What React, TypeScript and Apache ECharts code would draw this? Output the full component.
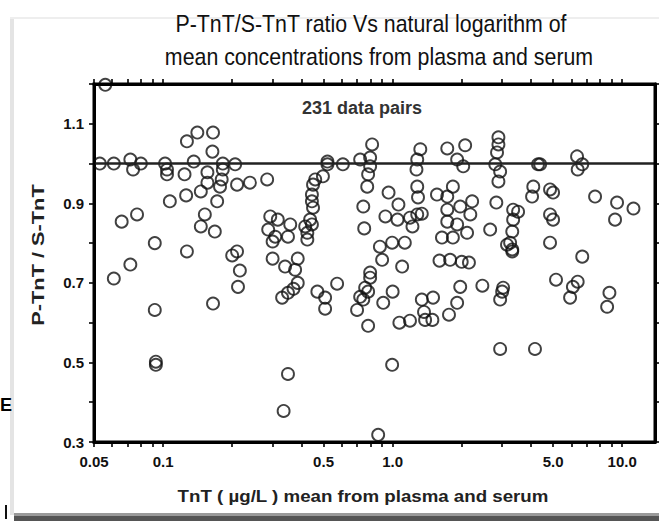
import React, { useEffect, useRef } from "react";
import * as echarts from "echarts";

const titleLines = [
  "P-TnT/S-TnT ratio Vs natural logarithm of",
  "mean concentrations from plasma and serum",
];
const xAxisTitle = "TnT ( µg/L ) mean from plasma and serum";
const yAxisTitle = "P-TnT / S-TnT";
const noteText = "231 data pairs";

const xTickValues = [0.05, 0.1, 0.5, 1, 5, 10];
const xTickLabels = ["0.05", "0.1", "0.5", "1.0", "5.0", "10.0"];
const xMinorTicks = [
  0.05, 0.06, 0.07, 0.08, 0.09, 0.1, 0.2, 0.3, 0.4, 0.5, 0.6, 0.7, 0.8, 0.9,
  1, 2, 3, 4, 5, 6, 7, 8, 9, 10,
];
const yTickValues = [0.3, 0.5, 0.7, 0.9, 1.1];
const yTickLabels = ["0.3", "0.5", "0.7", "0.9", "1.1"];
const xMin = 0.05;
const xMax = 13.9;
const yMin = 0.3;
const yMax = 1.2;
const refRatio = 1.0;

// TnT mean (µg/L)
const tntMean = [
  0.056, 0.053, 0.061, 0.072, 0.074, 0.08, 0.066, 0.077, 0.072, 0.061,
  0.092, 0.092, 0.093, 0.093, 0.102, 0.104, 0.104, 0.107, 0.124, 0.127,
  0.126, 0.127, 0.141, 0.165, 0.164, 0.136, 0.156, 0.156, 0.146, 0.152,
  0.146, 0.168, 0.172, 0.182, 0.182, 0.18, 0.177, 0.206, 0.21, 0.239,
  0.284, 0.2, 0.21, 0.216, 0.212, 0.165, 0.293, 0.316, 0.358, 0.287,
  0.308, 0.35, 0.3, 0.3, 0.34, 0.386, 0.376, 0.386, 0.37, 0.35,
  0.33, 0.35, 0.335, 0.497, 0.46, 0.45, 0.445, 0.445, 0.45, 0.437,
  0.445, 0.416, 0.425, 0.425, 0.52, 0.52, 0.607, 0.722, 0.47, 0.508,
  0.508, 0.573, 0.7, 0.722, 0.814, 0.798, 0.798, 0.782, 0.775, 0.745,
  0.752, 0.9, 1.1, 0.798, 0.798, 0.759, 0.782, 0.745, 0.782, 0.91,
  1.0, 1.07, 1.19, 1.34, 1.37, 1.385, 1.49, 1.5, 0.995, 0.865,
  0.88, 0.995, 1.13, 1.6, 1.78, 2.0, 2.15, 1.97, 1.91, 1.76,
  2.46, 3.03, 3.0, 2.94, 2.94, 4.17, 3.32, 5.15, 6.1, 6.4,
  5.93, 6.7, 8.8, 8.6, 0.96, 1.06, 0.93, 1.05, 1.19, 1.22,
  1.28, 1.34, 1.32, 1.28, 1.27, 1.28, 1.29, 1.73, 2.07, 1.91,
  2.03, 1.83, 1.56, 1.73, 2.22, 1.97, 2.18, 1.73, 1.73, 1.91,
  2.11, 1.64, 1.83, 2.89, 2.89, 2.85, 2.8, 2.94, 2.89, 2.83,
  2.66, 3.35, 3.52, 3.35, 3.32, 3.25, 3.15, 3.32, 4.39, 4.3,
  4.1, 4.05, 4.85, 5.0, 4.85, 5.0, 4.85, 6.36, 6.4, 6.7,
  7.62, 9.5, 9.31, 11.2,
];

// P-TnT / S-TnT ratio
const ratio = [
  1.198, 1.0, 1.0, 1.01, 0.985, 1.0, 0.854, 0.872, 0.746, 0.711,
  0.8, 0.632, 0.502, 0.494, 1.0, 0.985, 0.973, 0.905, 0.973, 1.056,
  0.92, 0.779, 1.078, 1.078, 1.03, 1.005, 0.978, 0.952, 0.93, 0.872,
  0.842, 0.829, 0.905, 1.0, 0.985, 0.96, 0.942, 0.998, 0.947, 0.952,
  0.96, 0.769, 0.779, 0.731, 0.69, 0.648, 0.867, 0.859, 0.847, 0.834,
  0.816, 0.816, 0.804, 0.761, 0.741, 0.761, 0.733, 0.7, 0.685, 0.675,
  0.663, 0.471, 0.378, 0.968, 0.96, 0.947, 0.922, 0.905, 0.889, 0.859,
  0.847, 0.842, 0.826, 0.809, 0.998, 1.005, 0.998, 1.01, 0.678, 0.663,
  0.635, 0.698, 0.632, 0.665, 1.048, 1.015, 0.993, 0.973, 0.942, 0.892,
  0.837, 0.758, 0.741, 0.726, 0.713, 0.688, 0.678, 0.658, 0.592, 0.65,
  0.678, 0.6, 0.605, 0.658, 0.627, 0.607, 0.607, 0.663, 0.494, 0.318,
  0.791, 0.801, 0.801, 0.756, 0.758, 0.753, 0.751, 0.69, 0.65, 0.62,
  0.693, 0.688, 0.678, 0.658, 0.534, 0.534, 0.779, 0.708, 0.69, 0.703,
  0.663, 0.766, 0.675, 0.64, 0.927, 0.897, 0.867, 0.859, 0.864, 0.842,
  0.872, 0.874, 1.036, 1.01, 0.985, 0.942, 0.915, 1.038, 1.046, 1.01,
  0.993, 0.942, 0.922, 0.917, 0.905, 0.892, 0.872, 0.884, 0.854, 0.847,
  0.826, 0.814, 0.814, 1.066, 1.048, 1.028, 0.998, 0.98, 0.955, 0.902,
  0.834, 0.884, 0.879, 0.859, 0.829, 0.801, 0.796, 0.784, 0.998, 0.998,
  0.942, 0.917, 0.935, 0.927, 0.872, 0.859, 0.801, 1.018, 0.985, 0.998,
  0.917, 0.902, 0.859, 0.887,
];

const FONT = '"Liberation Sans", Arial, sans-serif';
const GRID = { left: 94, top: 84, right: 4, bottom: 79 };
const W = 659;
const H = 521;

export default function App() {
  const ref = useRef<HTMLDivElement>(null);

  useEffect(() => {
    if (!ref.current) return;
    const chart = echarts.init(ref.current, null, { renderer: "svg" });
    const lg = (v: number) => Math.log10(v);
    const xLabel = (val: number) => {
      const i = xTickValues.findIndex((t) => Math.abs(lg(t) - val) < 1e-6);
      return i >= 0 ? xTickLabels[i] : "";
    };
    const yLabel = (val: number) => {
      const i = yTickValues.findIndex((t) => Math.abs(t - val) < 1e-6);
      return i >= 0 ? yTickLabels[i] : "";
    };
    const n = Math.min(tntMean.length, ratio.length);
    const data: number[][] = [];
    for (let i = 0; i < n; i++) data.push([lg(tntMean[i]), ratio[i]]);

    const xCommon = {
      type: "value",
      min: lg(xMin),
      max: lg(xMax),
      splitLine: { show: false },
    };
    const yCommon = {
      type: "value",
      min: yMin,
      max: yMax,
      interval: 0.1,
      splitLine: { show: false },
    };
    const lineStyleOf = () => ({ color: "#000", width: 3 });
    const tickStyleOf = () => ({ color: "#000", width: 1.6 });

    chart.setOption({
      animation: false,
      backgroundColor: "#ffffff",
      grid: { ...GRID, containLabel: false },
      xAxis: [
        {
          ...xCommon,
          position: "bottom",
          axisLine: { show: true, onZero: false, lineStyle: lineStyleOf() },
          axisTick: {
            show: true,
            length: 5,
            customValues: xMinorTicks.map(lg),
            lineStyle: tickStyleOf(),
          },
          axisLabel: {
            show: true,
            customValues: xTickValues.map(lg),
            formatter: xLabel,
            margin: 12,
            color: "#111",
            fontFamily: FONT,
            fontWeight: "bold",
            fontSize: 15,
          },
        },
        {
          ...xCommon,
          position: "top",
          axisLine: { show: true, onZero: false, lineStyle: lineStyleOf() },
          axisTick: {
            show: true,
            length: 5,
            customValues: xMinorTicks.map(lg),
            lineStyle: tickStyleOf(),
          },
          axisLabel: { show: false },
        },
      ],
      yAxis: [
        {
          ...yCommon,
          position: "left",
          axisLine: { show: true, onZero: false, lineStyle: lineStyleOf() },
          axisTick: { show: true, length: 5, lineStyle: tickStyleOf() },
          axisLabel: {
            show: true,
            customValues: yTickValues,
            formatter: yLabel,
            margin: 10,
            color: "#111",
            fontFamily: FONT,
            fontWeight: "bold",
            fontSize: 15,
          },
        },
        {
          ...yCommon,
          position: "right",
          axisLine: { show: true, onZero: false, lineStyle: lineStyleOf() },
          axisTick: { show: true, length: 5, lineStyle: tickStyleOf() },
          axisLabel: { show: false },
        },
      ],
      series: [
        {
          type: "scatter",
          xAxisIndex: 0,
          yAxisIndex: 0,
          data,
          symbol: "circle",
          symbolSize: 12,
          itemStyle: {
            color: "rgba(255,255,255,0)",
            borderColor: "#111",
            borderWidth: 1.9,
          },
          markLine: {
            silent: true,
            symbol: ["none", "none"],
            label: { show: false },
            lineStyle: { color: "#222", width: 2.5, type: "solid" },
            data: [{ yAxis: refRatio }],
          },
        },
      ],
      graphic: [
        {
          type: "rect",
          silent: true,
          z: 50,
          shape: {
            x: GRID.left,
            y: GRID.top,
            width: W - GRID.left - GRID.right,
            height: H - GRID.top - GRID.bottom,
          },
          style: { fill: "none", stroke: "#000", lineWidth: 3 },
        },
        { type: "rect", shape: { x: 10, y: 18, width: 4, height: 497 }, style: { fill: "#e4e4e4" } },
        { type: "rect", shape: { x: 10, y: 17, width: 649, height: 2 }, style: { fill: "#eeeeee" } },
        { type: "rect", shape: { x: 14, y: 513, width: 645, height: 3 }, style: { fill: "#9a9a9a" } },
        { type: "rect", shape: { x: 14, y: 516, width: 645, height: 5 }, style: { fill: "#555555" } },
        {
          type: "text",
          x: 371,
          y: 24,
          scaleX: 0.89,
          style: {
            x: 0,
            y: 0,
            text: titleLines[0],
            font: `24px ${FONT}`,
            fill: "#111",
            textAlign: "center",
            textVerticalAlign: "middle",
          },
        },
        {
          type: "text",
          x: 379,
          y: 57,
          scaleX: 0.89,
          style: {
            x: 0,
            y: 0,
            text: titleLines[1],
            font: `24px ${FONT}`,
            fill: "#111",
            textAlign: "center",
            textVerticalAlign: "middle",
          },
        },
        {
          type: "text",
          x: 362,
          y: 108,
          style: {
            text: noteText,
            font: `bold 18px ${FONT}`,
            fill: "#333",
            textAlign: "center",
            textVerticalAlign: "middle",
          },
        },
        {
          type: "text",
          x: 363,
          y: 496,
          scaleX: 1.1,
          style: {
            x: 0,
            y: 0,
            text: xAxisTitle,
            font: `bold 17px ${FONT}`,
            fill: "#222",
            textAlign: "center",
            textVerticalAlign: "middle",
          },
        },
        {
          type: "text",
          x: 38,
          y: 255,
          rotation: Math.PI / 2,
          scaleX: 1.28,
          style: {
            x: 0,
            y: 0,
            text: yAxisTitle,
            font: `bold 17px ${FONT}`,
            fill: "#222",
            textAlign: "center",
            textVerticalAlign: "middle",
          },
        },
        {
          type: "text",
          x: 0,
          y: 405,
          style: {
            text: "E",
            font: `bold 18px ${FONT}`,
            fill: "#000",
            textAlign: "left",
            textVerticalAlign: "middle",
          },
        },
        { type: "rect", shape: { x: 5, y: 505, width: 2, height: 14 }, style: { fill: "#111" } },
      ],
    });
    return () => chart.dispose();
  }, []);

  return (
    <div
      ref={ref}
      style={{ position: "absolute", left: 0, top: 0, width: W, height: H, background: "#fff" }}
    />
  );
}
